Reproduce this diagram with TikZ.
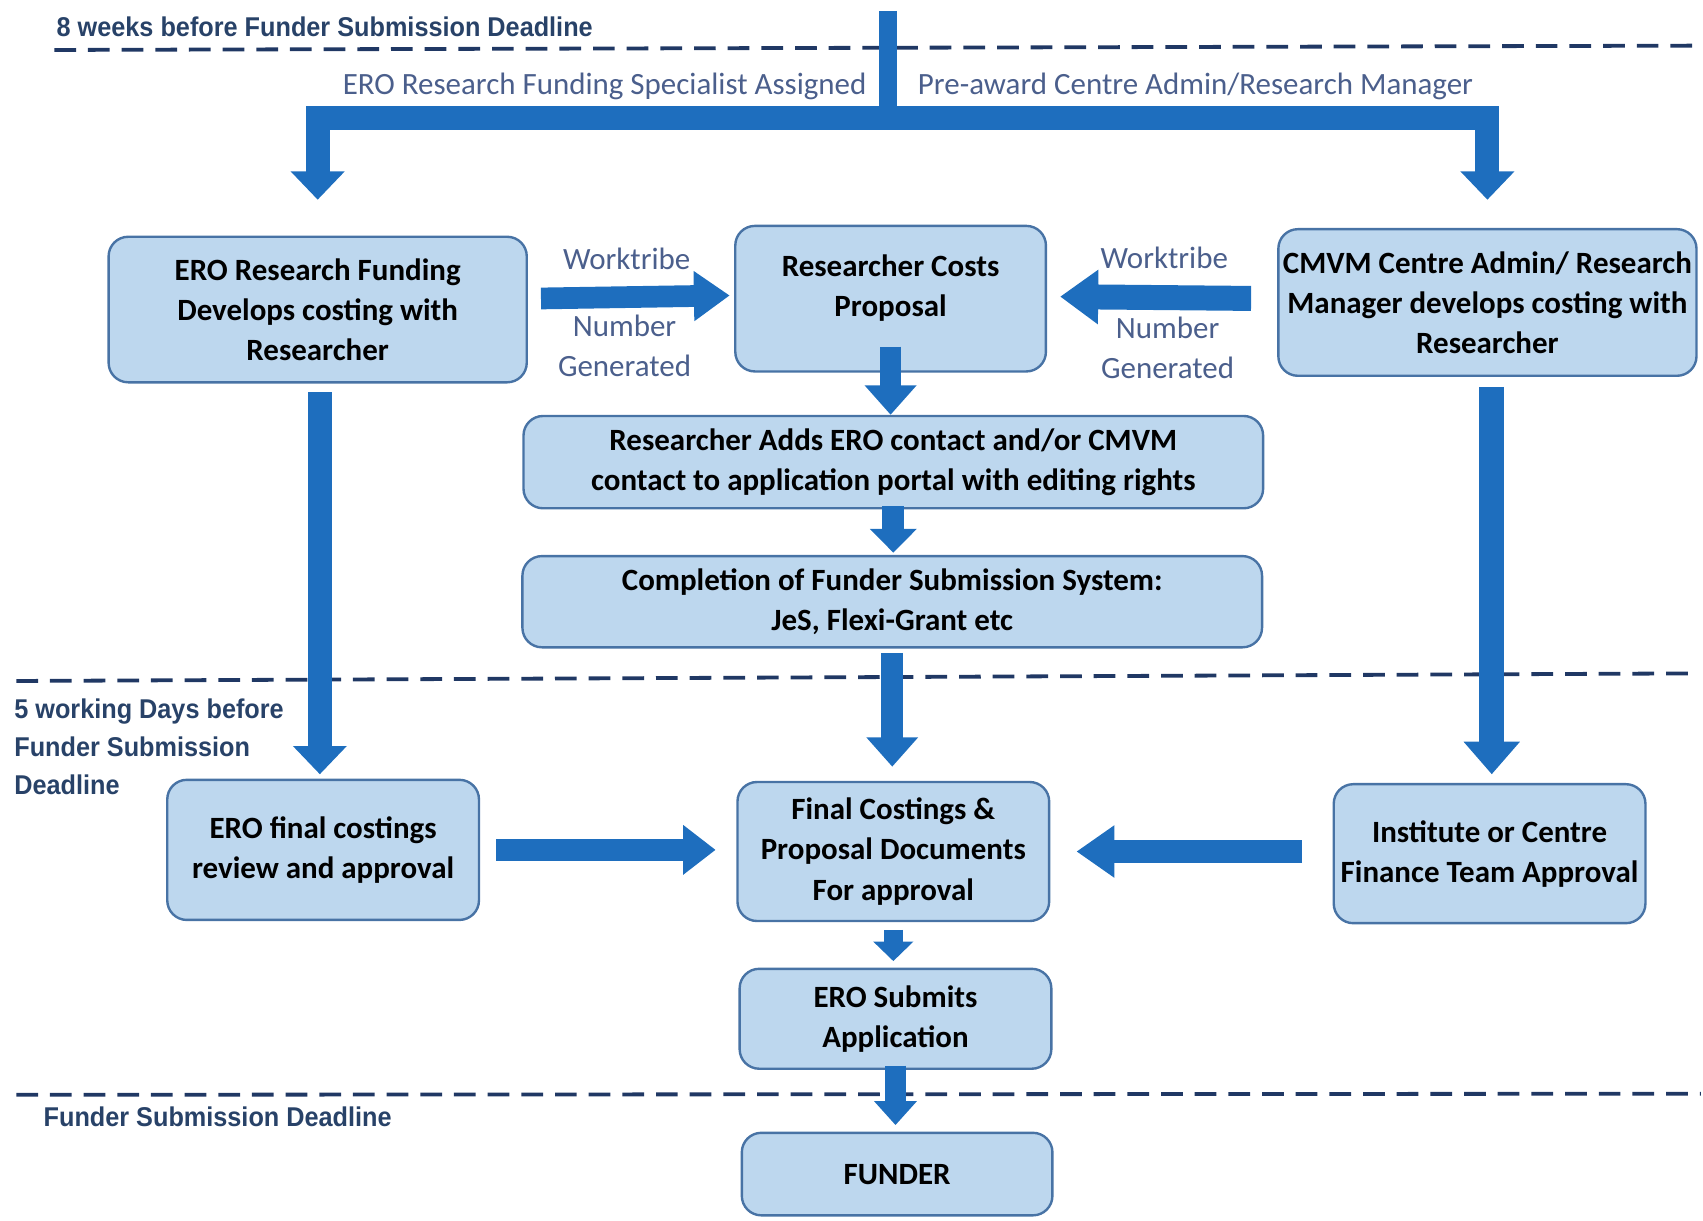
\documentclass[tikz,border=0pt]{standalone}
\usepackage{fontspec}
\setmainfont{Carlito}
\newfontfamily\labfont[FakeStretch=0.93]{Liberation Sans}
\usetikzlibrary{arrows.meta,calc}
\definecolor{arrowblue}{RGB}{30,110,190}
\definecolor{boxfill}{RGB}{189,215,238}
\definecolor{boxedge}{RGB}{72,115,165}
\definecolor{dashcol}{RGB}{32,56,100}
\definecolor{deadtext}{RGB}{40,66,104}
\definecolor{flowtext}{RGB}{75,95,140}
\begin{document}
\begin{tikzpicture}[x=1pt,y=-1pt,
  box/.style={draw=boxedge, fill=boxfill, line width=2.2pt, rounded corners=18pt,
    align=center, font=\fontsize{28.5}{37}\selectfont\bfseries, text=black, inner sep=0pt},
  boxtext/.style={align=center, font=\fontsize{28.5}{37}\selectfont\bfseries, text=black, inner sep=0pt},
  blockarrow/.style={draw=arrowblue, line width=20pt, line join=miter,
    -{Triangle[width=46pt,length=27pt]}},
  dashline/.style={draw=dashcol, line width=3.5pt, dash pattern=on 20pt off 11pt},
  deadline/.style={text=deadtext, font=\labfont\bfseries\fontsize{25}{35}\selectfont, inner sep=0pt},
  flowlabel/.style={text=flowtext, font=\fontsize{28.5}{37}\selectfont, inner sep=0pt, align=center}]
\useasboundingbox (0,0) rectangle (1568,1123.3);

% dashed time lines
\coordinate (d1a) at (50,46);  \coordinate (d1b) at (1566,42);
\coordinate (d2a) at (15,627); \coordinate (d2b) at (1562,620);
\coordinate (d3a) at (15,1008); \coordinate (d3b) at (1566,1007);
\draw[dashline] (d1a) -- (d1b);
\draw[dashline] (d2a) -- (d2b);
\draw[dashline] (d3a) -- (d3b);

\node[deadline, anchor=west] (t1) at (52,25) {8 weeks before Funder Submission Deadline};
\node[deadline, anchor=north west, align=left] (t2) at (13,643) {5 working Days before\\Funder Submission\\Deadline};
\node[deadline, anchor=west] (t3) at (40,1028) {Funder Submission Deadline};

% boxes
\node[box, minimum width=385, minimum height=134] (A) at (292.5,285) {ERO Research Funding\\Develops costing with\\Researcher};
\node[box, minimum width=286, minimum height=134] (B) at (820,275) {};
\node[boxtext] (Bt) at (820,265.5) {Researcher Costs\\Proposal};
\node[box, minimum width=385, minimum height=135] (C) at (1369.5,278.5) {CMVM Centre Admin/ Research\\Manager develops costing with\\Researcher};
\node[box, minimum width=681, minimum height=85] (D) at (822.5,425.5) {Researcher Adds ERO contact and/or CMVM\\contact to application portal with editing rights};
\node[box, minimum width=681, minimum height=84] (E) at (821.5,554) {Completion of Funder Submission System:\\JeS, Flexi-Grant etc};
\node[box, minimum width=287, minimum height=129] (F) at (297.5,782.5) {ERO final costings\\review and approval};
\node[box, minimum width=287, minimum height=128] (G) at (822.5,784) {Final Costings \&\\Proposal Documents\\For approval};
\node[box, minimum width=287, minimum height=128] (H) at (1371.5,786) {Institute or Centre\\Finance Team Approval};
\node[box, minimum width=287, minimum height=92] (I) at (824.5,938) {ERO Submits\\Application};
\node[box, minimum width=286, minimum height=76] (J) at (826,1081) {FUNDER};

% flow labels
\node[flowlabel, anchor=east] (l1) at (798,80) {ERO Research Funding Specialist Assigned};
\node[flowlabel, anchor=west] (l2) at (845,80) {Pre-award Centre Admin/Research Manager};
\node[flowlabel] (w1) at (577,238) {Worktribe};
\node[flowlabel] (n1) at (575,318.5) {Number\\Generated};
\node[flowlabel] (w2) at (1072,237) {Worktribe};
\node[flowlabel] (n2) at (1075,320.5) {Number\\Generated};

% top split arrows
\coordinate (src) at (817.5,10);
\coordinate (split) at (817.5,109);
\draw[arrowblue, line width=22pt, line join=miter, -{Triangle[width=48pt,length=26pt]}, shorten >=33pt] (split) -| (A.north);
\draw[arrowblue, line width=22pt, line join=miter, -{Triangle[width=48pt,length=26pt]}, shorten >=26pt] (split) -| (C.north);
\draw[arrowblue, line width=17pt] (src) -- ($(split)+(0,11)$);

% horizontal arrows
\draw[blockarrow, -{Triangle[width=44pt,length=33pt]}, shorten <=12pt, shorten >=4pt] (A.east |- B.west) -- ($(B.west)+(0,-3)$);
\draw[blockarrow, line width=23pt, -{Triangle[width=48pt,length=35pt]}, shorten <=24pt, shorten >=12pt] (C.west |- B.east) -- ($(B.east)+(0,-2)$);
\draw[blockarrow, -{Triangle[width=44pt,length=30pt]}, shorten <=15pt, shorten >=19pt] (F.east) -- (F.east -| G.west);
\draw[blockarrow, line width=22pt, -{Triangle[width=46pt,length=35pt]}, shorten <=28pt, shorten >=24pt] (H.west |- G.east) -- (G.east);

% vertical arrows
\draw[blockarrow, shorten <=-24pt] (B.south) -- (B.south |- D.north);
\draw[blockarrow, -{Triangle[width=42pt,length=22pt]}, shorten <=-3pt, shorten >=2pt] (D.south) -- (D.south |- E.north);
\draw[blockarrow, shorten <=4pt, shorten >=13pt] (E.south) -- (E.south |- G.north);
\draw[blockarrow, line width=22pt, -{Triangle[width=48pt,length=26pt]}, shorten <=8pt, shorten >=4pt] ($(A.south)+(2,0)$) -- ($(A.south |- F.north)+(2,0)$);
\draw[blockarrow, line width=23pt, -{Triangle[width=50pt,length=30pt]}, shorten <=9pt, shorten >=8pt] ($(C.south)+(4,0)$) -- ($(C.south |- H.north)+(4,0)$);
\draw[blockarrow, line width=18pt, -{Triangle[width=36pt,length=18pt]}, shorten <=7pt, shorten >=6pt] (G.south) -- (G.south |- I.north);
\draw[blockarrow, -{Triangle[width=38pt,length=22pt]}, shorten <=-4pt, shorten >=6pt] (I.south) -- (I.south |- J.north);
\end{tikzpicture}
\end{document}
